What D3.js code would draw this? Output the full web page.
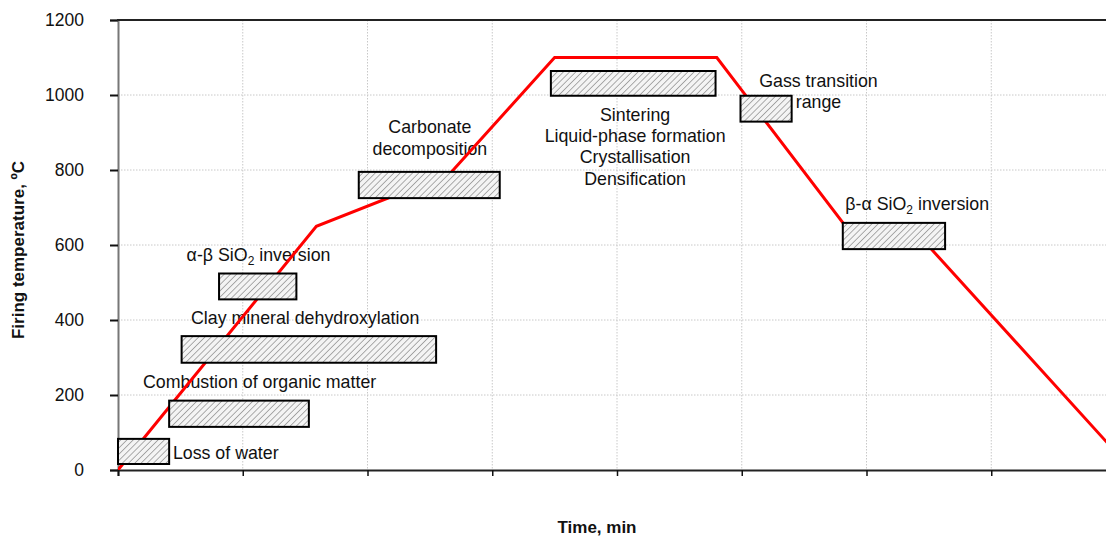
<!DOCTYPE html>
<html><head><meta charset="utf-8">
<script src="https://cdn.jsdelivr.net/npm/d3@7"></script>
<style>
html,body{margin:0;padding:0;background:#fff;}
svg{display:block;font-family:"Liberation Sans",Arial,Helvetica,sans-serif;}
</style></head>
<body>
<svg id="chart" width="1106" height="537"></svg>
<script>
// Firing curve
const timeMin = [0, 159, 266, 350, 480, 583, 649, 800];
const tempC   = [0, 650, 790, 1100, 1100, 651, 600, 47];

// Reaction ranges (hatched boxes)
const phaseNames = ["Loss of water","Combustion of organic matter","Clay mineral dehydroxylation","α-β SiO2 inversion","Carbonate decomposition","Sintering","Gass transition range","β-α SiO2 inversion"];
const boxStart = [0, 41, 51, 81, 193, 347, 499, 581];
const boxEnd   = [41, 153, 255, 143, 306, 479, 540, 663];
const boxLow   = [16, 115, 286, 455, 725, 998, 929, 589];
const boxHigh  = [83, 185, 357, 524, 795, 1064, 998, 659];

// Axis ticks
const yTicks = [0, 200, 400, 600, 800, 1000, 1200];
const xTicks = [0, 100, 200, 300, 400, 500, 600, 700, 800];

// Annotation texts
const labelLines = [
  [["Loss of water"]],
  [["Combustion of organic matter"]],
  [["Clay mineral dehydroxylation"]],
  [["α-β SiO", "2", " inversion"]],
  [["Carbonate"], ["decomposition"]],
  [["Sintering"], ["Liquid-phase formation"], ["Crystallisation"], ["Densification"]],
  [["Gass transition"], ["range"]],
  [["β-α SiO", "2", " inversion"]]
];
const labelTime = [44, 113.5, 150, 55, 250, 414.5, 561.5, 583];
const labelTemp = [29, 219, 389, 557, 898, 931, 1022, 693];
const labelAnchor = ["start","middle","middle","start","middle","middle","middle","start"];

(function(){
const svg = d3.select("#chart");
const mL = 118, mT = 20, mB = 470, mR = 1116;
const x = d3.scaleLinear().domain([0, 800]).range([mL, mR]);
const y = d3.scaleLinear().domain([0, 1200]).range([mB, mT]);

// hatch pattern
const defs = svg.append("defs");
const pat = defs.append("pattern").attr("id","hatch").attr("patternUnits","userSpaceOnUse")
  .attr("width",4.4).attr("height",4.4).attr("patternTransform","rotate(45)");
pat.append("rect").attr("width",4.4).attr("height",4.4).attr("fill","#f4f4f4");
pat.append("line").attr("x1",0).attr("y1",0).attr("x2",0).attr("y2",4.4)
  .attr("stroke","#999").attr("stroke-width",1.6);
defs.append("clipPath").attr("id","plotclip").append("rect")
  .attr("x",mL).attr("y",mT).attr("width",mR-mL).attr("height",mB-mT);

// gridlines
const grid = svg.append("g");
grid.selectAll("line.h").data(yTicks.filter(d=>d>0 && d<1200)).enter().append("line")
  .attr("x1",mL).attr("x2",mR).attr("y1",d=>y(d)).attr("y2",d=>y(d))
  .attr("stroke","#c8c8c8").attr("stroke-width",1).attr("stroke-dasharray","1.5,1.5");
grid.selectAll("line.v").data(xTicks.filter(d=>d>0)).enter().append("line")
  .attr("x1",d=>x(d)).attr("x2",d=>x(d)).attr("y1",mT).attr("y2",mB)
  .attr("stroke","#c8c8c8").attr("stroke-width",1).attr("stroke-dasharray","1.5,1.5");

// axes
const yAxis = d3.axisLeft(y).tickValues(yTicks).tickSize(8).tickPadding(26).tickFormat(d3.format("d"));
const gy = svg.append("g").attr("transform",`translate(${mL},0)`).call(yAxis);
gy.select(".domain").attr("stroke","#777").attr("stroke-width",2);
gy.selectAll(".tick line").attr("stroke","#111").attr("stroke-width",2);
gy.selectAll(".tick text").attr("font-size","17.5px").attr("fill","#111")
  .attr("font-family","'Liberation Sans',Arial,sans-serif");

const xAxis = d3.axisBottom(x).tickValues(xTicks).tickSize(6).tickFormat("");
const gx = svg.append("g").attr("transform",`translate(0,${mB})`).call(xAxis);
gx.select(".domain").attr("stroke","#222").attr("stroke-width",2);
gx.selectAll(".tick line").attr("stroke","#111").attr("stroke-width",1.5);

// top border
svg.append("line").attr("x1",mL-1).attr("x2",mR).attr("y1",mT).attr("y2",mT)
  .attr("stroke","#222").attr("stroke-width",2);

// axis titles
svg.append("text").attr("x",597).attr("y",533).attr("text-anchor","middle")
  .attr("font-weight","bold").attr("font-size","17px").attr("fill","#111").text("Time, min");
svg.append("text").attr("transform","translate(24,250) rotate(-90)").attr("text-anchor","middle")
  .attr("font-weight","bold").attr("font-size","17px").attr("fill","#111").text("Firing temperature, ºC");

// labels
const lblG = svg.append("g").attr("font-size","17.8px").attr("fill","#111");
labelLines.forEach((lines,i)=>{
  lines.forEach((parts,j)=>{
    const t = lblG.append("text").attr("x",x(labelTime[i])).attr("y",y(labelTemp[i]) + j*21.3)
      .attr("text-anchor",labelAnchor[i]);
    if(parts.length===1){ t.text(parts[0]); }
    else {
      t.append("tspan").text(parts[0]);
      t.append("tspan").attr("font-size","12px").attr("dy",4).text(parts[1]);
      t.append("tspan").attr("dy",-4).text(parts[2]);
    }
  });
});

// firing curve
const line = d3.line().x((d,i)=>x(timeMin[i])).y((d,i)=>y(tempC[i]));
svg.append("path").datum(timeMin).attr("d",line).attr("fill","none")
  .attr("stroke","#ff0000").attr("stroke-width",3).attr("stroke-linejoin","miter")
  .attr("clip-path","url(#plotclip)");

// hatched boxes
svg.append("g").selectAll("rect").data(phaseNames).enter().append("rect")
  .attr("x",(d,i)=>x(boxStart[i])).attr("y",(d,i)=>y(boxHigh[i]))
  .attr("width",(d,i)=>x(boxEnd[i])-x(boxStart[i]))
  .attr("height",(d,i)=>y(boxLow[i])-y(boxHigh[i]))
  .attr("fill","url(#hatch)").attr("stroke","#000").attr("stroke-width",2);
})();
</script>
</body></html>
